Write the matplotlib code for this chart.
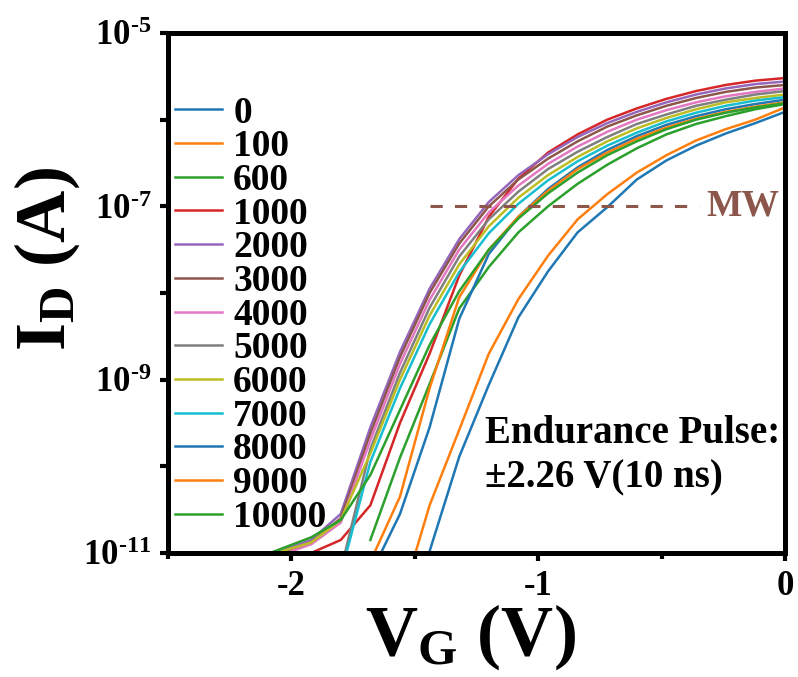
import numpy as np
import matplotlib
matplotlib.use('Agg')
import matplotlib.pyplot as plt

plt.rcParams['font.family'] = ['Liberation Serif', 'DejaVu Serif']
plt.rcParams['font.weight'] = 'bold'
plt.rcParams['mathtext.fontset'] = 'custom'
plt.rcParams['mathtext.rm'] = 'Liberation Serif:bold'
plt.rcParams['mathtext.bf'] = 'Liberation Serif:bold'
plt.rcParams['mathtext.it'] = 'Liberation Serif:bold'
plt.rcParams['axes.unicode_minus'] = False

nan = np.nan

# gate voltage grid (V)
vg = [-2.16, -2.04, -1.92, -1.80, -1.68, -1.56, -1.44, -1.32, -1.20, -1.08,
      -0.96, -0.84, -0.72, -0.60, -0.48, -0.36, -0.24, -0.12, 0.0]

# endurance cycle labels
cycles = ['0', '100', '600', '1000', '2000', '3000', '4000', '5000',
          '6000', '7000', '8000', '9000', '10000']

# log10(I_D), one row per cycle count
log_id = [
    [nan, nan, nan, nan, nan, nan, -10.98, -9.89, -9.06, -8.28, -7.75, -7.30, -7.01, -6.69, -6.47, -6.30, -6.16, -6.04, -5.91],
    [nan, nan, nan, nan, nan, -11.6, -10.45, -9.58, -8.70, -8.07, -7.57, -7.15, -6.86, -6.61, -6.41, -6.24, -6.11, -6.00, -5.86],
    [nan, nan, nan, nan, -10.85, -9.90, -9.05, -8.18, -7.70, -7.30, -7.00, -6.74, -6.52, -6.33, -6.17, -6.05, -5.96, -5.88, -5.82],
    [nan, -11.2, -11.0, -10.85, -10.45, -9.50, -8.70, -7.80, -7.12, -6.68, -6.38, -6.17, -6.00, -5.87, -5.76, -5.67, -5.60, -5.55, -5.52],
    [-11.05, -10.97, -10.85, -10.55, -9.55, -8.68, -7.95, -7.38, -6.95, -6.64, -6.40, -6.20, -6.04, -5.91, -5.80, -5.71, -5.64, -5.59, -5.56],
    [-11.10, -11.00, -10.88, -10.60, -9.62, -8.74, -8.00, -7.43, -7.00, -6.69, -6.45, -6.25, -6.08, -5.95, -5.84, -5.75, -5.68, -5.63, -5.60],
    [-11.15, -11.02, -10.90, -10.65, -9.70, -8.82, -8.08, -7.50, -7.07, -6.76, -6.51, -6.31, -6.14, -6.00, -5.89, -5.80, -5.73, -5.68, -5.64],
    [nan, nan, nan, -11.20, -9.80, -8.92, -8.17, -7.58, -7.15, -6.83, -6.57, -6.37, -6.20, -6.05, -5.94, -5.84, -5.77, -5.71, -5.67],
    [-11.10, -10.98, -10.88, -10.62, -9.85, -9.00, -8.26, -7.67, -7.23, -6.90, -6.64, -6.43, -6.25, -6.10, -5.98, -5.88, -5.80, -5.75, -5.71],
    [nan, nan, nan, -11.25, -9.95, -9.10, -8.36, -7.76, -7.31, -6.97, -6.70, -6.48, -6.30, -6.15, -6.02, -5.92, -5.84, -5.78, -5.74],
    [nan, nan, nan, nan, -11.25, -10.55, -9.55, -8.30, -7.55, -7.12, -6.80, -6.55, -6.35, -6.19, -6.06, -5.96, -5.88, -5.82, -5.77],
    [nan, nan, nan, nan, -11.10, -10.35, -9.10, -8.05, -7.50, -7.12, -6.82, -6.57, -6.38, -6.22, -6.09, -5.99, -5.91, -5.85, -5.80],
    [-11.08, -10.95, -10.82, -10.62, -10.10, -9.35, -8.60, -7.98, -7.50, -7.14, -6.85, -6.61, -6.41, -6.25, -6.11, -6.00, -5.92, -5.86, -5.81],
]

mw_level = 1e-7
mw_span = [-1.44, -0.35]

fig = plt.figure(figsize=(7.98, 6.77), dpi=100)
ax = fig.add_axes([0.2105, 0.1832, 0.7732, 0.7681])

colors = plt.rcParams['axes.prop_cycle'].by_key()['color']
for i, (lab, row) in enumerate(zip(cycles, log_id)):
    ax.plot(vg, 10.0 ** np.array(row), color=colors[i % 10], lw=1.8, label=lab)

ax.plot(mw_span, [mw_level, mw_level], color='#8c564b', lw=2.2, ls=(0, (4, 4)))
ax.text(-0.32, mw_level, 'MW', color='#8c564b', fontsize=27, fontweight='bold',
        va='center', ha='left')

ax.text(0.514, 0.265, 'Endurance Pulse:\n\u00b12.26 V(10 ns)', transform=ax.transAxes,
        fontsize=28, fontweight='bold', va='top', ha='left', linespacing=1.25)

ax.set_yscale('log')
ax.set_xlim(-2.5, 0)
ax.set_ylim(1e-11, 1e-5)

yt = [1e-11, 1e-10, 1e-9, 1e-8, 1e-7, 1e-6, 1e-5]
ax.set_yticks(yt)
ax.set_yticklabels([r'$\mathbf{10^{\text{-}11}}$', '', r'$\mathbf{10^{\text{-}9}}$', '',
                    r'$\mathbf{10^{\text{-}7}}$', '', r'$\mathbf{10^{\text{-}5}}$'])
ax.yaxis.set_minor_locator(matplotlib.ticker.NullLocator())
ax.set_xticks([-2, -1, 0])
ax.set_xticklabels(['-2', '-1', '0'])
ax.set_xticks([-2.5, -1.5, -0.5], minor=True)

ax.tick_params(which='major', direction='out', length=6, width=3, labelsize=25, pad=6)
ax.tick_params(which='minor', direction='out', length=4, width=3)
for s in ax.spines.values():
    s.set_linewidth(3.6)

ax.set_xlabel(r'$\mathbf{V_G}$ (V)', fontsize=52, fontweight='bold')
ax.set_ylabel(r'$\mathbf{I_D}$ (A)', fontsize=52, fontweight='bold')
ax.xaxis.set_label_coords(0.49, -0.095)
ax.yaxis.set_label_coords(-0.14, 0.565)

leg = ax.legend(loc='upper left', bbox_to_anchor=(-0.025, 0.923), frameon=False,
                fontsize=27, handlelength=1.25, handletextpad=0.3,
                labelspacing=-0.035, borderaxespad=0.2)

fig.savefig('out.png', dpi=100)
